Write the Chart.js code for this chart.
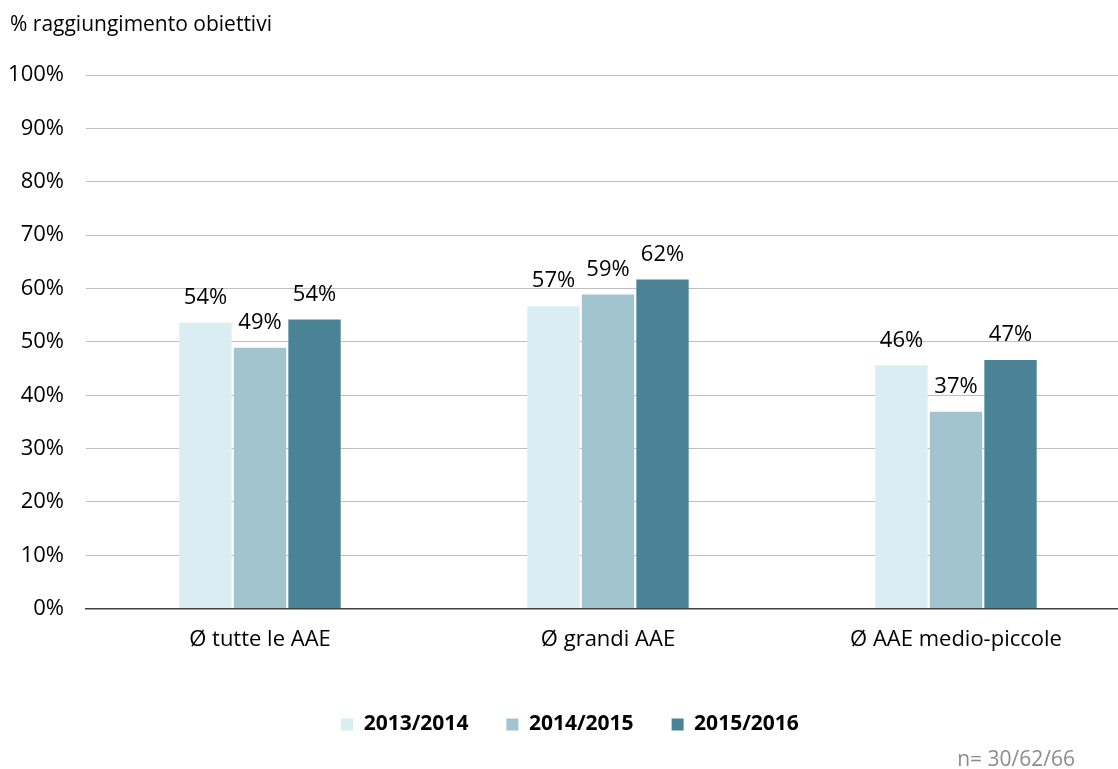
<!DOCTYPE html>
<html>
<head>
<meta charset="utf-8">
<script src="https://cdn.jsdelivr.net/npm/chart.js@4"></script>
<style>
  html, body { margin: 0; padding: 0; background: #fff; overflow: hidden; }
  #wrap { width: 1130px; height: 769px; position: relative; }
</style>
</head>
<body>
<div id="wrap"><canvas id="aaeChart"></canvas></div>
<script>
const categories = ["Ø tutte le AAE", "Ø grandi AAE", "Ø AAE medio-piccole"];
const series = ["2013/2014", "2014/2015", "2015/2016"];
const values2013 = [53.6, 56.7, 45.6];
const values2014 = [48.9, 58.9, 36.9];
const values2015 = [54.2, 61.7, 46.6];
const colors = ["#daedf3", "#a2c4cf", "#4a8396"];

const fontFamily = "'Open Sans', sans-serif";

// labels on top of the bars
const barLabels = {
  id: "barLabels",
  afterDatasetsDraw(chart) {
    const ctx = chart.ctx;
    ctx.save();
    ctx.fillStyle = "#000";
    ctx.font = "22px " + fontFamily;
    ctx.textAlign = "center";
    ctx.textBaseline = "middle";
    chart.data.datasets.forEach((ds, i) => {
      chart.getDatasetMeta(i).data.forEach((bar, j) => {
        ctx.fillText(Math.round(ds.data[j]) + "%", bar.x, bar.y - 25);
      });
    });
    ctx.restore();
  },
};

// sample size note, bottom right
const sampleNote = {
  id: "sampleNote",
  afterDraw(chart) {
    const ctx = chart.ctx;
    ctx.save();
    ctx.fillStyle = "#8c8c8c";
    ctx.font = "21px " + fontFamily;
    ctx.textAlign = "right";
    ctx.textBaseline = "middle";
    ctx.fillText("n= 30/62/66", 1075, 760);
    ctx.restore();
  },
};

new Chart(document.getElementById("aaeChart"), {
  type: "bar",
  data: {
    labels: categories,
    datasets: [
      { label: series[0], data: values2013, backgroundColor: colors[0] },
      { label: series[1], data: values2014, backgroundColor: colors[1] },
      { label: series[2], data: values2015, backgroundColor: colors[2] },
    ],
  },
  options: {
    responsive: true,
    maintainAspectRatio: false,
    animation: false,
    datasets: {
      bar: { categoryPercentage: 0.47, barPercentage: 0.96 },
    },
    layout: { padding: { left: 10, right: 0, top: 0, bottom: 24 } },
    plugins: {
      title: {
        display: true,
        text: "% raggiungimento obiettivi",
        align: "start",
        color: "#000",
        font: { family: fontFamily, size: 21, weight: "normal" },
        padding: { top: 12, bottom: 38 },
      },
      legend: {
        position: "bottom",
        labels: {
          color: "#000",
          font: { family: fontFamily, size: 21, weight: "bold" },
          boxWidth: 12,
          boxHeight: 12,
          padding: 38,
        },
      },
      tooltip: { enabled: false },
    },
    scales: {
      x: {
        grid: { display: false },
        border: { color: "#404040", width: 1.5 },
        ticks: {
          color: "#000",
          font: { family: fontFamily, size: 22 },
          padding: 10,
        },
        afterFit: (scale) => { scale.height += 13; },
      },
      y: {
        min: 0,
        max: 100,
        border: { display: false },
        grid: { color: "#bfbfbf", drawTicks: false },
        ticks: {
          stepSize: 10,
          color: "#000",
          font: { family: fontFamily, size: 22 },
          padding: 22,
          callback: (v) => v + "%",
        },
        afterFit: (scale) => { scale.width = 76; },
      },
    },
  },
  plugins: [barLabels, sampleNote],
});
</script>
</body>
</html>
